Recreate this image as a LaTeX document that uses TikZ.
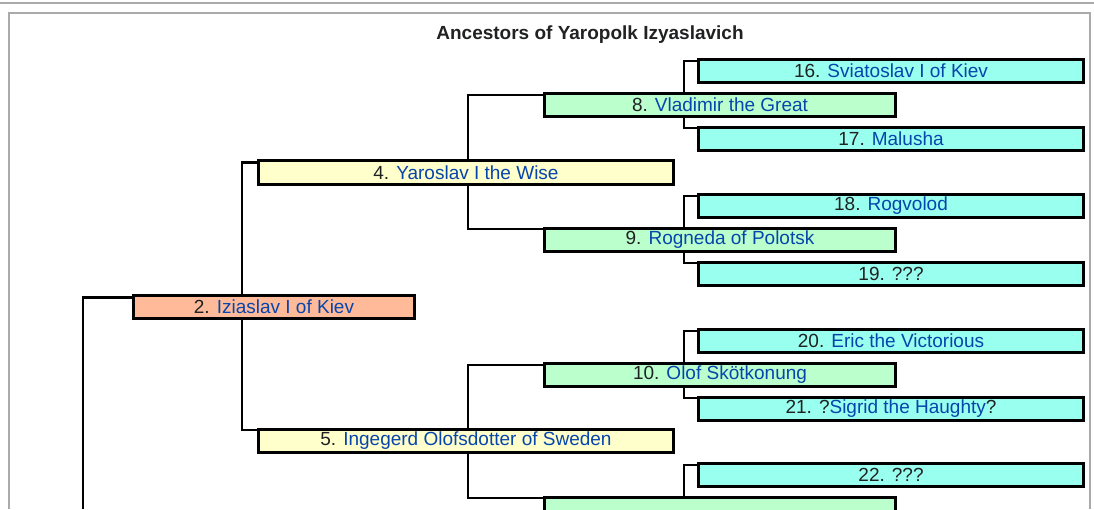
\documentclass[tikz,border=0pt]{standalone}
\usepackage{fontspec}
\setmainfont{Liberation Sans}

\definecolor{linkblue}{HTML}{0645AD}
\definecolor{inkgray}{HTML}{202122}
\definecolor{framegray}{HTML}{AAAAAA}
\definecolor{salmon}{HTML}{FFBB99}
\definecolor{paleyellow}{HTML}{FFFFCC}
\definecolor{palegreen}{HTML}{BBFFCC}
\definecolor{palecyan}{HTML}{99FFEE}

\tikzstyle{person}=[shape=rectangle,draw=black,line width=2.8pt,inner sep=0pt,minimum height=23.5pt,text=inkgray,font=\fontsize{19}{22}\selectfont]
\tikzstyle{gentwo}=[person,fill=salmon,minimum width=281pt]
\tikzstyle{genthree}=[person,fill=paleyellow,minimum width=415pt]
\tikzstyle{genfour}=[person,fill=palegreen,minimum width=351pt]
\tikzstyle{genfive}=[person,fill=palecyan,minimum width=385pt]
\tikzstyle{link}=[line width=2.4pt]
\tikzstyle{frame}=[draw=framegray,line width=2.4pt]

\newcommand{\who}[1]{\textcolor{linkblue}{#1}}

\begin{document}
\begin{tikzpicture}[x=1pt,y=-1pt]
        \useasboundingbox (0,0) rectangle (1094,509);

        % frame
        \draw[frame] (0,3) -- (1094,3);
        \draw[frame] (9,509) -- (9,13) -- (1090,13) -- (1090,509);

        \node[text=inkgray,font=\bfseries\fontsize{19}{21}\selectfont] (title) at (590,35) {Ancestors of Yaropolk Izyaslavich};

        % parents
        \node[gentwo] (p2) at (274,307) {2. \who{Iziaslav I of Kiev}};
        % grandparents
        \node[genthree] (p4) at (466,172.5) {4. \who{Yaroslav I the Wise}};
        \node[genthree] (p5) at (466,441) {5. \who{Ingegerd Olofsdotter of Sweden}};
        % great-grandparents
        \node[genfour] (p8) at (720,105) {8. \who{Vladimir the Great}};
        \node[genfour] (p9) at (720,240) {9. \who{Rogneda of Polotsk}};
        \node[genfour] (p10) at (720,375) {10. \who{Olof Skötkonung}};
        \node[genfour] (p11) at (720,509) {};
        % great-great-grandparents
        \node[genfive] (p16) at (891,71) {16. \who{Sviatoslav I of Kiev}};
        \node[genfive] (p17) at (891,139) {17. \who{Malusha}};
        \node[genfive] (p18) at (891,206) {18. \who{Rogvolod}};
        \node[genfive] (p19) at (891,274) {19. ???};
        \node[genfive] (p20) at (891,341) {20. \who{Eric the Victorious}};
        \node[genfive] (p21) at (891,409) {21. ?\who{Sigrid the Haughty}?};
        \node[genfive] (p22) at (891,475) {22. ???};

        % links
        \coordinate (j1) at (83,509);
        \coordinate (j2) at (242,0);
        \coordinate (j4) at (468,0);
        \coordinate (j8) at (684,0);
        \draw[link] (j1) |- ([yshift=-3.5pt]p2.north west);
        \draw[link] (p2.north -| j2) |- ([yshift=-3pt]p4.north west);
        \draw[link] (p2.south -| j2) |- ([yshift=-2pt]p5.north west);
        \draw[link] (p4.north -| j4) |- ([yshift=-3pt]p8.north west);
        \draw[link] (p4.south -| j4) |- ([yshift=-2pt]p9.north west);
        \draw[link] (p5.north -| j4) |- ([yshift=-3pt]p10.north west);
        \draw[link] (p5.south -| j4) |- ([yshift=-2pt]p11.north west);
        \draw[link] (p8.north -| j8) |- ([yshift=-3pt]p16.north west);
        \draw[link] (p8.south -| j8) |- ([yshift=-2pt]p17.north west);
        \draw[link] (p9.north -| j8) |- ([yshift=-3pt]p18.north west);
        \draw[link] (p9.south -| j8) |- ([yshift=-2pt]p19.north west);
        \draw[link] (p10.north -| j8) |- ([yshift=-3pt]p20.north west);
        \draw[link] (p10.south -| j8) |- ([yshift=-2pt]p21.north west);
        \draw[link] (p11.north -| j8) |- ([yshift=-3pt]p22.north west);
    \end{tikzpicture}
\end{document}
